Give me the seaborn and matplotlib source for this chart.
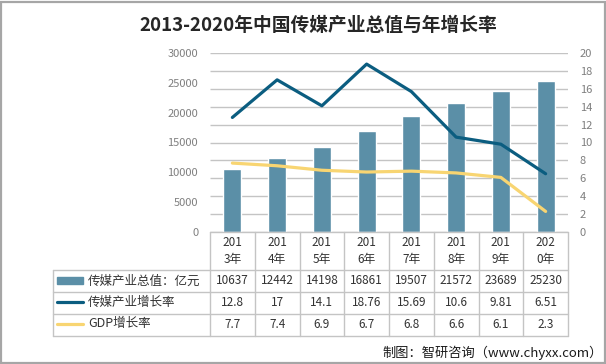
import numpy as np
import pandas as pd
import matplotlib
matplotlib.use("Agg")
import matplotlib.pyplot as plt
import seaborn as sns
from matplotlib.transforms import blended_transform_factory
from matplotlib.patches import Rectangle
from matplotlib.lines import Line2D

sns.set_theme(style="white")
plt.rcParams['font.family'] = ['Noto Sans CJK SC', 'DejaVu Sans']

years = ["2013年", "2014年", "2015年", "2016年", "2017年", "2018年", "2019年", "2020年"]
header_labels = ["201\n3年", "201\n4年", "201\n5年", "201\n6年", "201\n7年", "201\n8年", "201\n9年", "202\n0年"]
media_total = [10637, 12442, 14198, 16861, 19507, 21572, 23689, 25230]
media_growth = [12.8, 17, 14.1, 18.76, 15.69, 10.6, 9.81, 6.51]
gdp_growth = [7.7, 7.4, 6.9, 6.7, 6.8, 6.6, 6.1, 2.3]
growth_labels = ["12.8", "17", "14.1", "18.76", "15.69", "10.6", "9.81", "6.51"]
gdp_labels = ["7.7", "7.4", "6.9", "6.7", "6.8", "6.6", "6.1", "2.3"]
series_names = ["传媒产业总值：亿元", "传媒产业增长率", "GDP增长率"]
left_ticks = [0, 5000, 10000, 15000, 20000, 25000, 30000]
right_ticks = [0, 2, 4, 6, 8, 10, 12, 14, 16, 18, 20]
title = "2013-2020年中国传媒产业总值与年增长率"
source = "制图：智研咨询（www.chyxx.com）"

BAR = "#5b8fa7"
DARK = "#0b5d80"
YEL = "#f8d572"
GRID = "#c4c4c4"
TICK = "#7f7f7f"

W, H = 606, 364
fig = plt.figure(figsize=(W / 100, H / 100), dpi=100)

def fx(px):
    return px / W

def fy(py):
    return 1 - py / H

ax_l, ax_r, ax_t, ax_b = 210, 568, 53, 232
ax = fig.add_axes([fx(ax_l), fy(ax_b), fx(ax_r - ax_l), (ax_b - ax_t) / H])
ax2 = ax.twinx()

df = pd.DataFrame({"year": years, "total": media_total,
                   "mg": media_growth, "gdp": gdp_growth, "pos": np.arange(len(years))})

sns.barplot(data=df, x="year", y="total", color=BAR, width=0.4, ax=ax,
            saturation=1, zorder=2)
sns.lineplot(data=df, x="pos", y="mg", color=DARK, lw=2.3, ax=ax2, zorder=3)
sns.lineplot(data=df, x="pos", y="gdp", color=YEL, lw=2.3, ax=ax2, zorder=3)

ax.set_xlim(-0.5, len(years) - 0.5)
ax2.set_xlim(-0.5, len(years) - 0.5)
ax.set_ylim(0, 30000)
ax.set_yticks(left_ticks)
ax2.set_ylim(0, 20)
ax2.set_yticks(right_ticks)
ax.grid(False)
ax2.grid(False)
ax2.patch.set_visible(False)
ax.hlines([v / 20 * 30000 for v in right_ticks], -0.5, len(years) - 0.5,
          colors=GRID, lw=1.0, zorder=1)

for a in (ax, ax2):
    for s in a.spines.values():
        s.set_visible(False)
    a.set_xlabel("")
    a.set_ylabel("")
ax.set_xticks([])
ax.tick_params(axis="y", length=0, labelsize=8, labelcolor=TICK, pad=8.5)
ax2.tick_params(axis="y", length=0, labelsize=8, labelcolor=TICK, pad=8.5)
ax.set_yticklabels([str(v) for v in left_ticks])
ax2.set_yticklabels([str(v) for v in right_ticks])

# table
trans = blended_transform_factory(ax.transData, fig.transFigure)
n = len(years)
rows_y = [232, 270, 292, 314, 336]
tleft = 53
fig.add_artist(Line2D([fx(ax_l), fx(ax_r)], [fy(232), fy(232)], color=GRID, lw=1.0))
for py in rows_y[1:]:
    fig.add_artist(Line2D([fx(tleft), fx(ax_r)], [fy(py), fy(py)], color=GRID, lw=1.0))
fig.add_artist(Line2D([fx(tleft), fx(tleft)], [fy(270), fy(336)], color=GRID, lw=1.0))
for i in range(n + 1):
    fig.add_artist(Line2D([i - 0.5, i - 0.5], [fy(232), fy(336)], color=GRID, lw=1.0,
                          transform=trans))

txt = "#333333"
for i in range(n):
    fig.text(i, fy(251), header_labels[i], transform=trans, ha="center", va="center",
             fontsize=8.5, color=txt, linespacing=1.3)
    fig.text(i, fy(281), str(media_total[i]), transform=trans, ha="center", va="center",
             fontsize=8.5, color=txt)
    fig.text(i, fy(303), growth_labels[i], transform=trans, ha="center", va="center",
             fontsize=8.5, color=txt)
    fig.text(i, fy(325), gdp_labels[i], transform=trans, ha="center", va="center",
             fontsize=8.5, color=txt)

fig.add_artist(Rectangle((fx(57), fy(284)), fx(26), 7 / H, color=BAR))
fig.add_artist(Line2D([fx(57), fx(83)], [fy(302), fy(302)], color=DARK, lw=2.3))
fig.add_artist(Line2D([fx(57), fx(83)], [fy(324), fy(324)], color=YEL, lw=2.3))
for name, py in zip(series_names, [281, 302, 323]):
    fig.text(fx(88), fy(py), name, ha="left", va="center", fontsize=9, color=txt)

fig.text(fx(318), fy(25), title, ha="center", va="center", fontsize=13.5,
         fontweight="bold", color="#262626")
fig.text(fx(603), fy(353), source, ha="right", va="center", fontsize=9.5, color="#1a1a1a")

fig.add_artist(Rectangle((0.5 / W, 1.5 / H), 1 - 2 / W, 1 - 3 / H, fill=False,
                         edgecolor="#a6a6a6", lw=1.6, transform=fig.transFigure))

fig.savefig("out.png", dpi=100)
